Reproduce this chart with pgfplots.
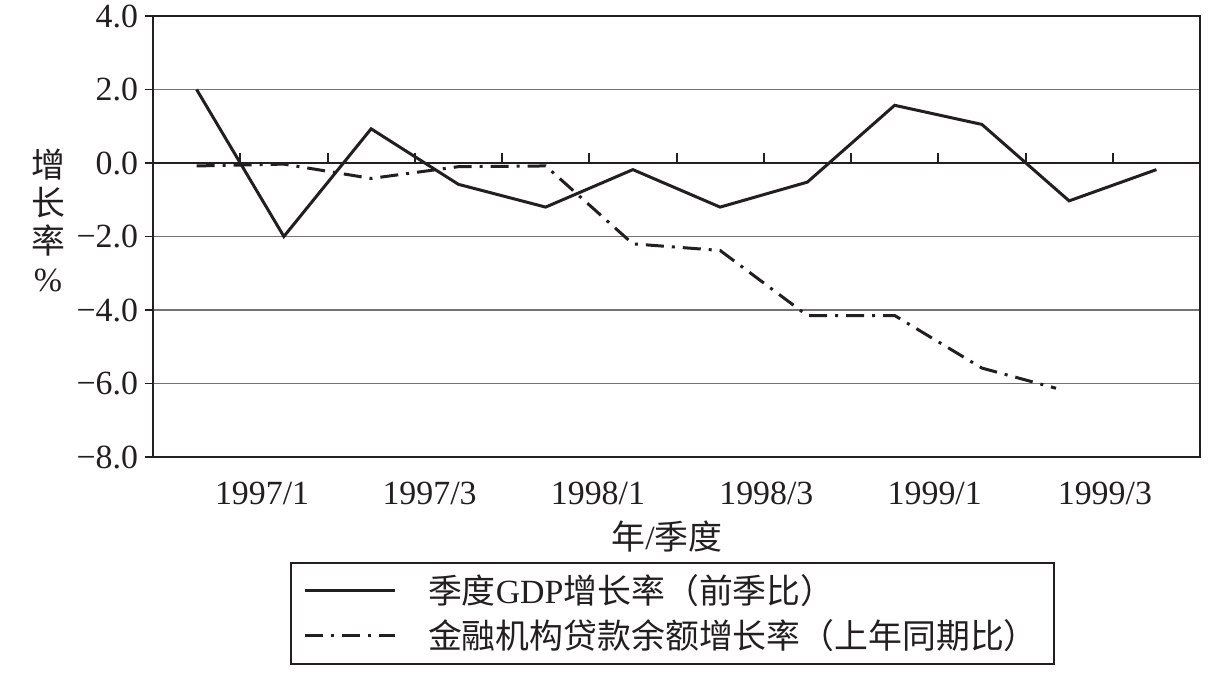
\documentclass[border=0pt]{standalone}
\usepackage{pgfplots}
\pgfplotsset{compat=1.18}
\usepackage{fontspec}
\setmainfont{Liberation Serif}
\newfontfamily\cjk{Noto Sans CJK SC}
\definecolor{ink}{RGB}{35,31,32}
\begin{document}
\begin{tikzpicture}
\begin{axis}[
  at={(0,0)}, anchor=south west,
  scale only axis, width=523.5bp, height=220.5bp,
  clip mode=individual,
  xmin=-0.5, xmax=11.5, ymin=-8, ymax=4,
  xtick={0.75,2.67,4.6,6.53,8.46,10.41},
  xticklabels={1997/1,1997/3,1998/1,1998/3,1999/1,1999/3},
  major x tick style={draw=none},
  xtick pos=bottom,
  ytick={-8,-6,-4,-2,0,2,4},
  yticklabels={−8.0,−6.0,−4.0,−2.0,0.0,2.0,4.0},
  ytick pos=left, tick align=outside,
  major tick length=4bp,
  y tick style={ink, line width=0.8bp},
  ymajorgrids, grid style={black!55, line width=0.7bp},
  axis line style={ink, line width=0.9bp},
  tick label style={font=\fontsize{17}{20}\selectfont, text=ink},
  xticklabel style={yshift=-5bp},
  xlabel={{\cjk 年}/{\cjk 季度}},
  xlabel style={font=\fontsize{17}{20}\selectfont, text=ink, at={(axis description cs:0.491,-0.181)}, anchor=center},
  legend style={at={(axis description cs:0.131,-0.238)}, anchor=north west, draw=ink, line width=0.9bp,
    font=\fontsize{17}{20}\selectfont, text=ink, inner xsep=6bp, inner ysep=4bp, row sep=2.5bp},
  legend cell align=left,
  legend image code/.code={\draw[#1] (0bp,0bp) -- (45bp,0bp);},
]
\addplot[ink, line width=1.5bp] coordinates {
 (0,2.0) (1,-2.0) (2,0.93) (3,-0.58) (4,-1.2) (5,-0.18) (6,-1.2) (7,-0.52) (8,1.57) (9,1.05) (10,-1.03) (11,-0.18)};
\addlegendentry{\hspace{14bp}{\cjk 季度}GDP{\cjk 增长率（前季比）}}
\addplot[ink, line width=1.5bp, dash pattern=on 9bp off 4bp on 1.5bp off 4bp] coordinates {
 (0,-0.08) (1,-0.03) (2,-0.42) (3,-0.1) (4,-0.08) (5,-2.2) (6,-2.38) (7,-4.15) (8,-4.15) (9,-5.58) (9.85,-6.13)};
\addlegendentry{\hspace{14bp}{\cjk 金融机构贷款余额增长率（上年同期比）}}
\addplot[ink, line width=1.1bp, forget plot] coordinates {(-0.5,0) (11.5,0)};
\addplot[ycomb, ink, line width=1bp, forget plot, no marks] coordinates {
 (0.5,0.27) (1.5,0.27) (2.5,0.27) (3.5,0.27) (4.5,0.27) (5.5,0.27) (6.5,0.27) (7.5,0.27) (8.5,0.27) (9.5,0.27) (10.5,0.27) (11.5,0.27)};
\node[font=\fontsize{17}{19}\selectfont, text=ink, align=center] at (axis description cs:-0.1003,0.537) {{\cjk 增}\\{\cjk 长}\\{\cjk 率}\\\%};
\end{axis}
\pgfresetboundingbox
\path[use as bounding box] (-76.5bp,-114bp) rectangle (534bp,228.5bp);
\end{tikzpicture}
\end{document}
